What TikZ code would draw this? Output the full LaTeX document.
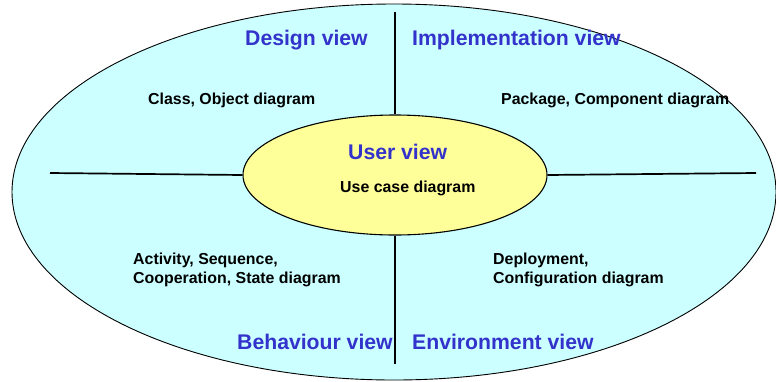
\documentclass[tikz,border=0pt]{standalone}
\usepackage{fontspec}
\setmainfont{Liberation Sans}
\usetikzlibrary{shapes.geometric}
\definecolor{viewfill}{HTML}{CCFFFF}
\definecolor{userfill}{HTML}{FFFF99}
\definecolor{viewblue}{HTML}{3333CC}
\tikzset{
  title/.style={anchor=base west, inner sep=0pt, text=viewblue,
    font=\fontsize{21.2}{24}\selectfont\bfseries},
  diag/.style={anchor=base west, inner sep=0pt, text=black, align=left,
    font=\fontsize{15.9}{19}\selectfont\bfseries},
  divider/.style={draw=black, line width=1.7pt},
}
\begin{document}
\begin{tikzpicture}[x=1pt,y=-1pt]
  \useasboundingbox (0,0) rectangle (776,381);
  % outer ellipse holding the four views
  \node[ellipse, draw=black, line width=0.9pt, fill=viewfill, inner sep=0pt,
        minimum width=764pt, minimum height=376pt] (outer) at (394,192) {};
  % dividers between the views
  \coordinate (topend) at (395,12);
  \coordinate (botend) at (395,364);
  \coordinate (leftend) at (50,173);
  \coordinate (rightend) at (756,173);
  % central user view
  \node[ellipse, draw=black, line width=1.1pt, fill=userfill, inner sep=0pt,
        minimum width=304pt, minimum height=120pt] (user) at (395,175) {};
  \draw[divider] (topend) -- (user.north);
  \draw[divider] (user.south) -- (botend);
  \draw[divider] (leftend) -- (user.west);
  \draw[divider] (user.east) -- (rightend);
  % view titles
  \node[title] (design) at (245,45) {Design view};
  \node[title] (impl) at (412,45) {Implementation view};
  \node[title] (uview) at (348,159) {User view};
  \node[title] (behav) at (237,349) {Behaviour view};
  \node[title] (env) at (412,349) {Environment view};
  % diagrams of each view (two-line labels sit on the baseline of their last line)
  \node[diag] (classobj) at (148,104) {Class, Object diagram};
  \node[diag] (pkgcomp) at (501,104) {Package, Component diagram};
  \node[diag] (usecase) at (340,192) {Use case diagram};
  \node[diag] (actseq) at (133,283) {Activity, Sequence,\\Cooperation, State diagram};
  \node[diag] (deploy) at (493,283) {Deployment,\\Configuration diagram};
\end{tikzpicture}
\end{document}
